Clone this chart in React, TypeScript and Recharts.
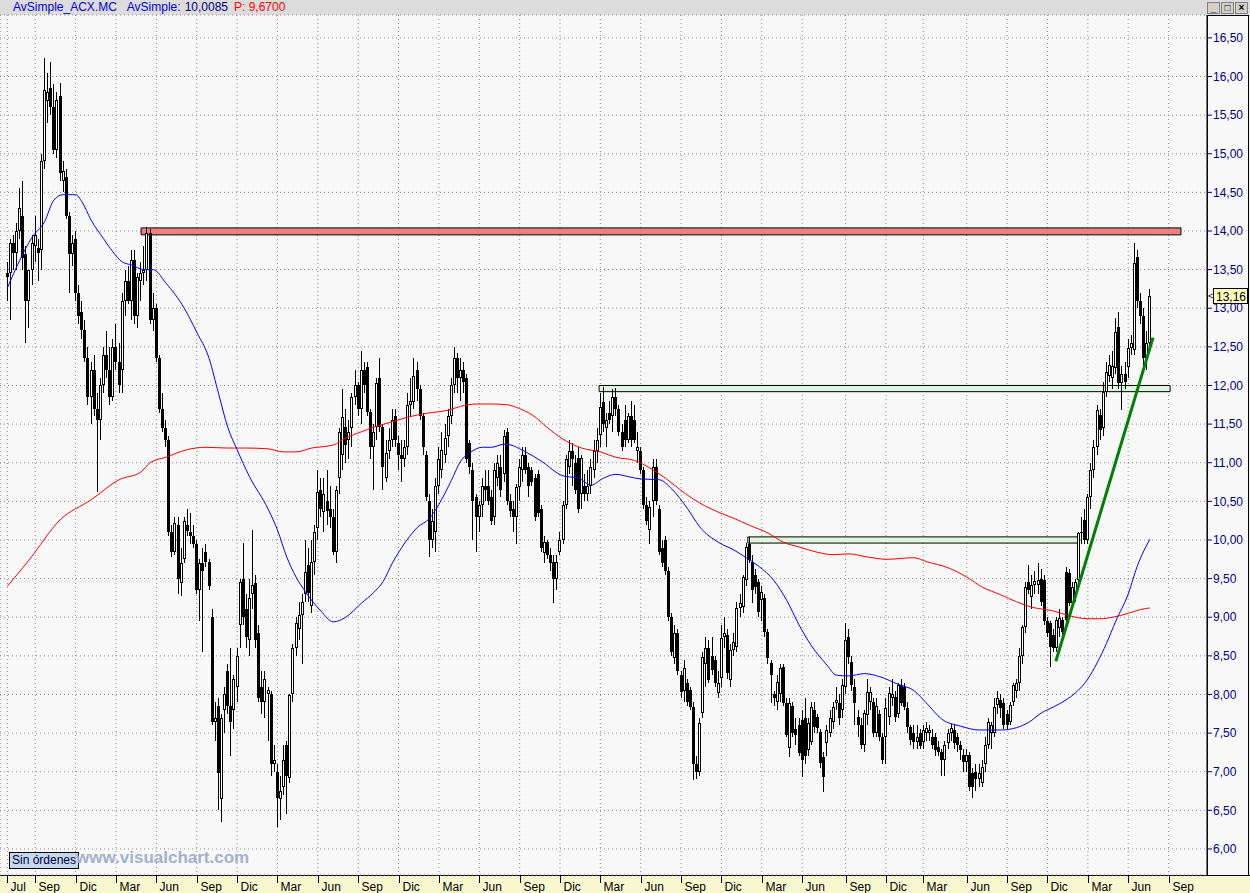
import React from "react";
import { ComposedChart, Bar, Line, XAxis, YAxis, CartesianGrid, ReferenceArea, ReferenceLine } from "recharts";

// weekly candles [open, high, low, close], bar 0 = first week of July
const weeklyBars: [number, number, number, number][] = [
  [13.45,13.6,13.1,13.4],[13.45,13.9,12.85,13.85],[13.85,13.95,13.5,13.72],[13.72,14.1,13.5,14.0],[14.0,14.55,13.9,14.3],
  [14.2,14.65,13.5,13.65],[13.7,13.8,12.55,13.1],[13.1,13.5,12.75,13.5],[13.5,13.95,13.3,13.85],[13.8,14.2,13.6,13.95],
  [13.78,13.9,13.35,13.72],[13.75,15.0,13.5,14.9],[14.9,16.24,14.8,15.83],[15.68,16.05,15.4,15.8],[15.85,16.19,15.5,15.6],
  [15.6,15.9,15.0,15.05],[15.05,15.8,14.95,15.7],[15.75,15.92,14.65,14.75],[14.65,14.9,14.5,14.78],[14.7,14.8,14.15,14.2],
  [14.2,14.25,13.2,13.7],[13.7,13.95,13.55,13.85],[13.9,14.0,13.1,13.2],[13.2,13.3,12.8,12.9],[12.95,13.1,12.6,12.72],
  [12.72,12.85,12.3,12.35],[12.35,12.5,11.75,11.85],[11.85,12.3,11.5,12.2],[12.2,12.4,11.6,11.7],[11.7,11.9,10.62,11.55],
  [11.55,12.1,11.3,12.0],[12.0,12.5,11.9,12.4],[12.4,12.7,12.1,12.2],[12.2,12.5,11.75,11.85],[11.85,12.6,11.8,12.5],
  [12.5,12.8,12.2,12.3],[12.3,12.55,11.9,12.0],[12.2,13.2,11.9,13.1],[13.1,13.5,12.9,13.35],[13.35,13.55,13.05,13.1],
  [13.1,13.75,12.85,13.62],[13.62,13.75,12.8,12.9],[12.9,13.45,12.75,13.4],[13.35,13.6,13.1,13.45],[13.45,13.8,13.3,13.5],
  [13.5,14.05,13.35,13.98],[13.98,14.03,12.8,12.85],[12.85,13.2,12.7,13.0],[13.0,13.05,12.3,12.35],[12.35,12.4,11.65,11.7],
  [11.7,11.9,11.4,11.45],[11.45,11.55,11.2,11.3],[11.3,11.35,10.05,10.1],[10.1,10.2,9.78,9.85],[9.85,10.3,9.8,10.22],
  [10.2,10.3,9.3,9.5],[9.44,9.9,9.28,9.7],[9.75,10.3,9.7,10.25],[10.2,10.4,10.05,10.12],[10.1,10.35,9.95,10.05],
  [10.05,10.2,9.9,9.95],[9.95,10.0,9.3,9.35],[9.35,9.75,8.95,9.7],[9.7,9.9,8.55,9.6],[9.85,9.95,9.65,9.72],
  [9.72,9.75,9.35,9.4],[9.0,9.1,7.6,7.65],[7.65,7.9,7.4,7.7],[7.85,7.95,6.5,6.98],[6.65,7.75,6.35,7.7],
  [7.8,8.1,7.5,8.0],[8.3,8.4,7.75,7.85],[7.85,8.6,7.2,7.65],[7.8,8.25,7.55,8.2],[8.1,8.6,7.9,8.5],
  [8.9,9.5,8.6,9.45],[9.5,9.96,8.9,9.0],[9.1,9.3,8.6,8.75],[8.7,9.5,8.5,9.25],[9.3,10.13,9.1,9.42],
  [9.44,9.55,8.6,8.7],[8.8,8.9,7.9,7.95],[8.1,8.3,7.75,7.9],[7.9,8.3,7.7,8.2],[8.0,8.1,7.4,8.06],
  [8.0,8.05,6.95,7.1],[7.1,7.35,7.0,7.15],[7.0,7.1,6.28,6.66],[6.65,6.95,6.38,6.75],[6.8,7.35,6.7,7.15],
  [7.35,7.4,6.45,6.95],[6.92,8.0,6.85,7.99],[8.0,8.65,7.9,8.6],[8.6,9.0,8.5,8.93],[8.85,9.2,8.7,9.03],
  [9.03,9.3,8.4,9.2],[9.3,10.0,9.2,9.59],[9.68,9.9,9.2,9.31],[9.15,10.0,9.05,9.72],[9.72,10.2,9.55,10.1],
  [10.15,10.9,10.0,10.62],[10.65,10.8,10.3,10.4],[10.36,10.8,10.1,10.6],[10.5,10.9,10.2,10.38],[10.4,10.7,10.15,10.3],
  [10.3,10.4,9.8,9.84],[9.85,10.7,9.7,10.65],[10.8,11.45,10.6,11.4],[11.1,11.95,10.9,11.59],[11.46,11.7,11.0,11.23],
  [11.3,11.55,11.05,11.4],[11.45,11.9,11.2,11.85],[11.85,12.2,11.75,12.0],[12.0,12.05,11.6,11.7],[11.7,12.45,11.5,12.2],
  [12.2,12.3,11.9,12.0],[12.24,12.3,11.6,11.66],[11.66,11.7,11.05,11.2],[11.2,11.5,10.65,11.4],[11.46,12.1,11.3,12.03],
  [12.1,12.35,11.4,11.46],[11.46,11.5,10.65,10.95],[10.8,11.3,10.75,11.13],[11.15,11.45,11.05,11.3],[11.3,11.7,11.2,11.55],
  [11.6,11.7,11.2,11.3],[11.25,11.35,10.9,11.1],[11.1,11.3,10.75,11.05],[11.05,11.3,10.95,11.2],[11.2,11.9,11.1,11.75],
  [11.75,12.1,11.6,11.8],[11.78,12.35,11.7,12.12],[12.2,12.3,11.8,11.95],[11.95,12.0,11.55,11.6],[11.6,11.65,11.1,11.2],
  [11.1,11.15,10.5,10.55],[10.5,10.6,9.78,10.0],[10.0,10.4,9.9,10.25],[10.1,10.8,9.85,10.7],[10.7,11.2,10.6,11.05],
  [10.9,11.4,10.8,11.17],[11.1,11.5,11.0,11.32],[11.35,11.7,11.2,11.6],[11.6,12.1,11.5,12.0],[12.0,12.5,11.9,12.36],
  [12.36,12.42,11.9,12.1],[12.1,12.35,11.8,12.2],[12.2,12.3,11.9,12.05],[12.1,12.15,11.0,11.05],[11.25,11.3,10.85,10.95],
  [10.9,11.0,10.0,10.5],[10.55,10.6,9.85,10.3],[10.3,10.5,10.1,10.45],[10.45,10.8,10.3,10.7],[10.7,10.9,10.5,10.65],
  [10.7,10.9,10.45,10.5],[10.55,10.65,10.2,10.25],[10.3,11.0,10.2,10.9],[10.8,11.1,10.7,11.0],[10.95,11.1,10.55,10.65],
  [10.85,11.42,10.75,11.35],[11.4,11.45,10.45,10.5],[10.5,10.6,10.3,10.38],[10.4,10.5,10.1,10.3],[10.3,10.72,9.95,10.68],
  [10.68,11.05,10.5,10.95],[10.9,11.2,10.75,11.1],[11.1,11.2,10.85,10.9],[10.95,11.0,10.55,10.7],[10.9,10.95,10.7,10.75],
  [10.8,10.85,10.25,10.3],[10.85,10.9,10.3,10.35],[10.4,10.45,9.85,9.9],[9.83,10.05,9.7,9.97],[9.97,10.0,9.75,9.8],
  [9.8,9.9,9.6,9.7],[9.72,9.8,9.18,9.5],[9.5,9.8,9.35,9.72],[9.85,10.1,9.8,10.0],[10.0,10.5,9.95,10.45],
  [10.45,11.1,10.4,11.05],[10.95,11.3,10.85,11.15],[11.15,11.25,10.7,11.05],[11.0,11.1,10.6,10.65],[11.06,11.2,10.35,10.4],
  [10.6,11.1,10.4,11.06],[10.7,10.85,10.5,10.6],[10.6,10.9,10.5,10.7],[10.7,11.05,10.6,10.95],[10.9,11.3,10.8,11.15],
  [11.15,11.45,11.0,11.3],[11.36,11.9,11.2,11.72],[11.78,11.98,11.4,11.5],[11.45,11.65,11.2,11.55],[11.65,11.8,11.5,11.55],
  [11.6,11.95,11.4,11.85],[11.85,11.97,11.6,11.7],[11.7,11.75,11.35,11.4],[11.4,11.5,11.15,11.2],[11.55,11.75,11.2,11.3],
  [11.3,11.65,11.25,11.6],[11.6,11.8,11.2,11.3],[11.55,11.75,11.25,11.3],[11.15,11.4,11.0,11.2],[11.15,11.2,10.85,10.9],
  [10.9,10.95,10.4,10.45],[10.45,10.55,10.2,10.25],[10.13,10.5,9.95,10.43],[10.5,11.05,10.3,10.95],[10.95,11.05,10.45,10.5],
  [10.4,10.45,9.8,9.85],[9.9,10.0,9.65,9.7],[10.0,10.05,9.55,9.6],[9.6,9.65,8.95,9.0],[9.0,9.05,8.5,8.55],
  [8.47,8.9,8.4,8.8],[8.8,8.85,8.25,8.3],[8.25,8.3,7.95,8.03],[8.05,8.45,7.9,8.34],[8.15,8.2,7.85,7.9],
  [8.06,8.1,7.8,7.84],[7.84,7.9,6.89,7.1],[7.1,7.2,6.9,7.0],[7.0,7.7,6.95,7.63],[7.76,8.55,7.7,8.49],
  [8.4,8.75,8.1,8.6],[8.6,8.7,8.15,8.19],[8.5,8.75,8.25,8.32],[8.45,8.5,8.1,8.15],[8.02,8.3,7.95,8.15],
  [8.21,8.9,8.1,8.73],[8.74,9.0,8.6,8.8],[8.77,8.85,8.2,8.28],[8.19,8.65,8.1,8.58],[8.58,8.8,8.5,8.68],
  [8.61,9.2,8.55,9.12],[9.12,9.3,9.0,9.18],[9.13,9.55,9.05,9.52],[9.48,9.96,9.4,9.91],[9.95,10.04,9.7,9.74],
  [9.72,9.8,9.18,9.35],[9.55,9.62,9.3,9.39],[9.46,9.5,9.0,9.07],[9.22,9.4,8.95,9.33],[9.25,9.3,8.75,8.81],
  [8.81,8.85,8.4,8.47],[8.41,8.45,7.89,8.25],[8.0,8.05,7.85,7.95],[7.9,8.25,7.8,8.16],[8.0,8.4,7.9,8.34],
  [8.36,8.4,7.85,7.89],[7.89,7.95,7.45,7.48],[7.31,7.95,7.19,7.89],[7.85,7.9,7.45,7.5],[7.55,7.7,7.35,7.48],
  [7.6,7.7,7.2,7.24],[7.67,7.8,6.93,7.15],[7.7,7.95,7.1,7.2],[7.28,7.7,7.2,7.63],[7.39,7.9,7.35,7.84],
  [7.8,7.9,7.5,7.58],[7.71,7.75,7.5,7.57],[7.51,7.55,7.05,7.11],[7.19,7.25,6.74,6.93],[7.37,7.6,7.2,7.54],
  [7.5,7.8,7.45,7.7],[7.65,7.9,7.55,7.84],[7.89,8.1,7.8,7.93],[7.89,8.0,7.6,7.7],[7.8,8.2,7.7,8.12],
  [8.1,8.93,8.0,8.71],[8.74,8.85,8.4,8.49],[8.42,8.5,8.05,8.12],[8.1,8.2,7.6,7.89],[7.71,7.8,7.45,7.6],
  [7.6,7.7,7.3,7.35],[7.35,7.8,7.25,7.76],[7.73,8.2,7.6,8.03],[7.9,8.1,7.8,8.03],[7.9,7.95,7.45,7.5],
  [7.5,7.95,7.45,7.85],[7.75,7.8,7.4,7.45],[7.45,7.5,7.1,7.15],[7.45,7.95,7.1,7.83],[7.71,8.1,7.6,8.02],
  [7.95,8.2,7.85,8.0],[7.97,8.05,7.65,7.71],[7.75,8.15,7.7,8.12],[8.12,8.2,7.85,7.89],[8.1,8.15,7.8,7.84],
  [7.83,7.9,7.5,7.58],[7.58,7.6,7.35,7.41],[7.5,7.6,7.3,7.38],[7.38,7.6,7.3,7.45],[7.5,7.55,7.3,7.33],
  [7.38,7.6,7.3,7.54],[7.5,7.65,7.4,7.56],[7.5,7.6,7.4,7.54],[7.45,7.55,7.3,7.35],[7.45,7.5,7.2,7.28],
  [7.32,7.4,7.2,7.25],[7.26,7.3,6.95,7.15],[7.15,7.4,6.95,7.35],[7.37,7.55,7.3,7.5],[7.5,7.62,7.4,7.56],
  [7.54,7.6,7.3,7.37],[7.45,7.5,7.25,7.35],[7.35,7.4,7.15,7.28],[7.22,7.3,7.0,7.13],[7.13,7.3,7.0,7.22],
  [7.22,7.25,6.75,6.8],[6.98,7.05,6.66,6.8],[7.0,7.1,6.75,6.9],[6.9,7.1,6.8,6.98],[6.85,7.15,6.8,7.06],
  [7.1,7.45,7.0,7.35],[7.35,7.7,7.3,7.64],[7.5,7.65,7.3,7.6],[7.5,7.95,7.45,7.84],[7.86,8.05,7.75,7.95],
  [7.93,8.0,7.7,7.83],[7.89,7.95,7.55,7.6],[7.75,7.8,7.55,7.6],[7.65,7.9,7.6,7.86],[7.9,8.15,7.85,8.12],
  [8.05,8.2,7.95,8.15],[8.15,8.6,8.05,8.5],[8.5,8.9,8.4,8.87],[8.87,9.45,8.8,9.39],[9.45,9.68,9.3,9.35],
  [9.26,9.55,9.1,9.42],[9.42,9.6,9.3,9.47],[9.42,9.7,9.3,9.48],[9.5,9.62,9.15,9.2],[9.48,9.55,8.9,8.95],
  [8.95,9.0,8.75,8.8],[8.93,8.95,8.36,8.61],[8.77,8.85,8.55,8.6],[8.6,9.0,8.55,8.96],[8.86,9.1,8.75,8.99],
  [8.96,9.0,8.75,8.81],[9.59,9.65,8.9,8.96],[9.57,9.62,9.15,9.18],[9.18,9.45,9.1,9.39],[9.26,9.5,9.2,9.45],
  [9.48,10.1,9.4,10.09],[10.09,10.3,9.95,10.1],[10.26,10.4,9.95,10.0],[10.0,10.6,9.95,10.55],[10.55,11.0,10.4,10.9],
  [10.9,11.3,10.8,11.2],[11.2,11.75,11.1,11.68],[11.62,11.7,11.3,11.42],[11.45,12.05,11.35,11.92],[11.92,12.3,11.85,12.17],
  [12.12,12.4,12.05,12.27],[12.1,12.45,11.95,12.25],[12.23,12.87,12.15,12.69],[12.76,12.95,11.95,12.03],[12.03,12.25,11.68,12.15],
  [12.15,12.3,11.95,12.05],[12.24,12.6,12.1,12.49],[12.49,12.65,12.4,12.55],[12.46,13.84,12.4,13.59],[13.66,13.75,13.0,13.1],
  [13.1,13.2,12.8,12.9],[12.9,13.0,12.2,12.35],[12.35,12.7,12.2,12.55],[12.55,13.25,12.45,13.16],
];

// moving averages: [bar index, value]
const blueMa: [number, number][] = [
  [0,13.26],[4,13.62],[8,13.92],[12,14.12],[15,14.4],[18,14.47],[22,14.47],[24,14.38],[27,14.14],[31,13.9],
  [34,13.73],[37,13.6],[40,13.56],[44,13.5],[47,13.5],[51,13.33],[57,13.0],[61,12.69],[65,12.35],[68,11.9],
  [71,11.46],[74,11.17],[78,10.82],[84,10.4],[87,10.13],[90,9.78],[93,9.52],[96,9.33],[101,9.08],[105,8.94],
  [109,9.0],[114,9.18],[118,9.32],[121,9.46],[124,9.7],[127,9.9],[132,10.16],[136,10.28],[139,10.46],[143,10.77],
  [146,11.02],[149,11.13],[153,11.2],[156,11.2],[160,11.24],[163,11.22],[165,11.18],[167,11.14],[172,11.02],[179,10.83],
  [184,10.8],[188,10.71],[192,10.8],[196,10.85],[200,10.82],[204,10.79],[210,10.78],[214,10.66],[219,10.41],[223,10.17],
  [229,9.97],[234,9.87],[238,9.77],[242,9.66],[247,9.47],[251,9.22],[255,8.9],[259,8.63],[264,8.38],[267,8.25],
  [271,8.24],[276,8.27],[281,8.23],[287,8.13],[292,8.05],[296,7.89],[301,7.68],[307,7.59],[313,7.54],[320,7.54],
  [325,7.57],[329,7.64],[333,7.76],[337,7.84],[341,7.93],[344,8.02],[348,8.2],[351,8.41],[354,8.66],[357,8.95],
  [361,9.3],[364,9.67],[368,10.01],
];
const redMa: [number, number][] = [
  [0,9.4],[7,9.74],[17,10.26],[27,10.52],[36,10.78],[43,10.88],[46,11.0],[51,11.07],[58,11.17],[64,11.2],
  [71,11.19],[77,11.19],[84,11.18],[89,11.14],[93,11.14],[98,11.19],[105,11.23],[109,11.32],[114,11.4],[118,11.46],
  [124,11.53],[129,11.59],[135,11.64],[142,11.68],[146,11.73],[151,11.76],[156,11.76],[161,11.75],[165,11.7],[169,11.62],
  [175,11.42],[180,11.28],[185,11.19],[191,11.14],[196,11.07],[202,11.03],[207,10.93],[212,10.8],[218,10.61],[223,10.48],
  [229,10.36],[234,10.28],[239,10.19],[245,10.09],[250,9.97],[255,9.91],[261,9.84],[266,9.81],[271,9.82],[277,9.78],
  [283,9.75],[292,9.77],[296,9.72],[303,9.64],[309,9.52],[314,9.39],[320,9.29],[325,9.2],[330,9.13],[337,9.08],
  [342,9.02],[348,8.98],[352,8.98],[356,9.0],[361,9.05],[365,9.1],[368,9.12],
];

const monthTicks = [0,9,22,35,48,61,74,87,100,113,126,139,152,165,178,191,204,217,230,243,256,270,283,295,309,322,335,348,361,374];
const monthLabels = ["Jul","Sep","Dic","Mar","Jun","Sep","Dic","Mar","Jun","Sep","Dic","Mar","Jun","Sep","Dic","Mar","Jun","Sep","Dic","Mar","Jun","Sep","Dic","Mar","Jun","Sep","Dic","Mar","Jun","Sep"];
const priceTicks = [6,6.5,7,7.5,8,8.5,9,9.5,10,10.5,11,11.5,12,12.5,13,13.5,14,14.5,15,15.5,16,16.5];

// drawn zones: [from bar, to bar, low, high]
const resistanceZone: [number, number, number, number] = [43.1, 378, 13.95, 14.04];
const supportZones: [number, number, number, number][] = [[190.6, 374.5, 11.92, 12.0], [238.5, 344.8, 9.96, 10.04]];
const trendLine: [number, number][] = [[337.7, 8.43], [369, 12.62]];

const FONT = "'Liberation Sans', Arial, sans-serif";
const fmt = (v: number, d = 2) => v.toFixed(d).replace(".", ",");

const candles = weeklyBars.map(([o, h, l, c], i) => ({ i, o, h, l, c, range: [l, h] }));
const blueData = blueMa.map(([i, v]) => ({ i, v }));
const redData = redMa.map(([i, v]) => ({ i, v }));
const lastClose = weeklyBars[weeklyBars.length - 1][3];

function Candle(props: any) {
  const { x, y, width, height, payload } = props;
  if (x == null || !payload) return null;
  const { o, h, l, c } = payload;
  const y0 = Math.min(y, y + height);
  const hh = Math.abs(height);
  const span = h - l || 1;
  const py = (v: number) => y0 + ((h - v) / span) * hh;
  const cx = Math.floor(x + width / 2);
  const top = Math.round(py(Math.max(o, c)));
  const bot = Math.round(py(Math.min(o, c)));
  const up = c >= o;
  return (
    <g shapeRendering="crispEdges">
      <line x1={cx + 0.5} x2={cx + 0.5} y1={Math.round(y0)} y2={Math.round(y0 + hh)} stroke="#000" />
      {up ? (
        bot - top > 1 ? (
          <rect x={cx - 0.5} y={top + 0.5} width={2} height={bot - top - 1} fill="#fff" stroke="#000" />
        ) : (
          <line x1={cx - 1} x2={cx + 2} y1={top + 0.5} y2={top + 0.5} stroke="#000" />
        )
      ) : (
        <rect x={cx - 1} y={top} width={3} height={Math.max(bot - top, 1)} fill="#000" />
      )}
    </g>
  );
}

function MonthTick(props: any) {
  const { x, y, payload } = props;
  const k = monthTicks.indexOf(payload.value);
  const px = Math.round(x) + 0.5;
  return (
    <g>
      <line x1={px} x2={px} y1={y} y2={y + 8} stroke="#000" />
      <text x={px + 3} y={y + 16} fontSize={12} fontFamily={FONT} fill="#000">{monthLabels[k]}</text>
    </g>
  );
}

function PriceTag(props: any) {
  const vb = props.viewBox;
  if (!vb) return null;
  const right = vb.x + vb.width;
  const y = Math.round(vb.y);
  return (
    <g shapeRendering="crispEdges">
      <text x={right + 1} y={y + 3} fontSize={9} fontFamily={FONT} fill="#000">{"<"}</text>
      <rect x={right + 6.5} y={y - 7.5} width={34} height={15} fill="#ffffc0" stroke="#000" />
      <text x={right + 9} y={y + 5} fontSize={12} fontFamily={FONT} fill="#000">{fmt(lastClose)}</text>
    </g>
  );
}

export default function App() {
  return (
    <div style={{ position: "absolute", left: 0, top: 0, width: 1250, height: 893, background: "#f8f8f8", overflow: "hidden", fontFamily: FONT }}>
      <div style={{ position: "absolute", left: 0, top: 0, width: 1250, height: 15, background: "#dcdcdc", fontSize: 12, lineHeight: "15px", whiteSpace: "nowrap" }}>
        <span style={{ marginLeft: 13, color: "#0000e0" }}>AvSimple_ACX.MC</span>
        <span style={{ marginLeft: 10, color: "#0000e0" }}>AvSimple:</span>
        <span style={{ marginLeft: 4, color: "#000080" }}>10,0085</span>
        <span style={{ marginLeft: 6, color: "#ff0000" }}>P: 9,6700</span>
      </div>
      <div style={{ position: "absolute", right: 2, top: 2, display: "flex", gap: 1 }}>
        {["_", "\u25a1", "\u00d7"].map((g) => (
          <div key={g} style={{ width: 11, height: 10, background: "#d4d0c8", border: "1px solid #808080", fontSize: 10, lineHeight: "9px", textAlign: "center", color: "#000", fontWeight: "bold" }}>{g}</div>
        ))}
      </div>
      <div style={{ position: "absolute", left: 1207, top: 15, width: 42, height: 860, borderLeft: "1px solid #000", borderTop: "1px solid #000", borderRight: "1px solid #000", boxSizing: "border-box" }} />
      <div style={{ position: "absolute", left: 0, top: 875, width: 1250, height: 18, background: "#f8f8d0", borderTop: "1px solid #000", boxSizing: "border-box" }} />
      <div style={{ position: "absolute", left: 0, top: 0 }}>
        <ComposedChart width={1250} height={893} data={candles} margin={{ top: 15, right: 0, bottom: 0, left: 0 }}>
          <CartesianGrid stroke="#8c8c8c" strokeDasharray="1 3" />
          <XAxis
            dataKey="i"
            type="number"
            domain={[-2.351, 386.38]}
            allowDataOverflow
            ticks={monthTicks}
            interval={0}
            height={18}
            axisLine={false}
            tickLine={false}
            tickSize={0}
            tickMargin={0}
            tick={(p: any) => <MonthTick {...p} />}
          />
          <YAxis
            orientation="right"
            type="number"
            width={43}
            domain={[5.663, 16.796]}
            allowDataOverflow
            ticks={priceTicks}
            interval={0}
            tickFormatter={(v: number) => fmt(v)}
            axisLine={{ stroke: "#000" }}
            tickLine={{ stroke: "#000080" }}
            tickSize={5}
            tickMargin={1}
            tick={{ fill: "#000080", fontSize: 12, fontFamily: FONT }}
          />
          <ReferenceArea x1={resistanceZone[0]} x2={resistanceZone[1]} y1={resistanceZone[2]} y2={resistanceZone[3]} fill="#f08080" fillOpacity={1} stroke="#000" strokeWidth={1} ifOverflow="visible" />
          {supportZones.map(([a, b, lo, hi], k) => (
            <ReferenceArea key={k} x1={a} x2={b} y1={lo} y2={hi} fill="#e0f5e0" fillOpacity={1} stroke="#000" strokeWidth={1} ifOverflow="visible" />
          ))}
          <Bar dataKey="range" barSize={3} shape={(p: any) => <Candle {...p} />} isAnimationActive={false} />
          <Line data={redData} dataKey="v" type="monotone" stroke="#ff0000" strokeWidth={1} dot={false} isAnimationActive={false} />
          <Line data={blueData} dataKey="v" type="monotone" stroke="#0000ff" strokeWidth={1} dot={false} isAnimationActive={false} />
          <ReferenceLine
            segment={[{ x: trendLine[0][0], y: trendLine[0][1] }, { x: trendLine[1][0], y: trendLine[1][1] }]}
            stroke="#008000"
            strokeWidth={3}
            ifOverflow="visible"
          />
          <ReferenceLine y={lastClose} stroke="none" ifOverflow="visible" label={(p: any) => <PriceTag {...p} />} />
        </ComposedChart>
      </div>
      <div style={{ position: "absolute", left: 9, top: 852, height: 15, padding: "0 2px", background: "#c4d8ee", border: "1px solid #000", fontSize: 12, lineHeight: "15px", color: "#000040" }}>Sin órdenes</div>
      <div style={{ position: "absolute", left: 76, top: 848, fontSize: 17, fontWeight: "bold", color: "#a4b0cc", lineHeight: "20px" }}>www.visualchart.com</div>
    </div>
  );
}
